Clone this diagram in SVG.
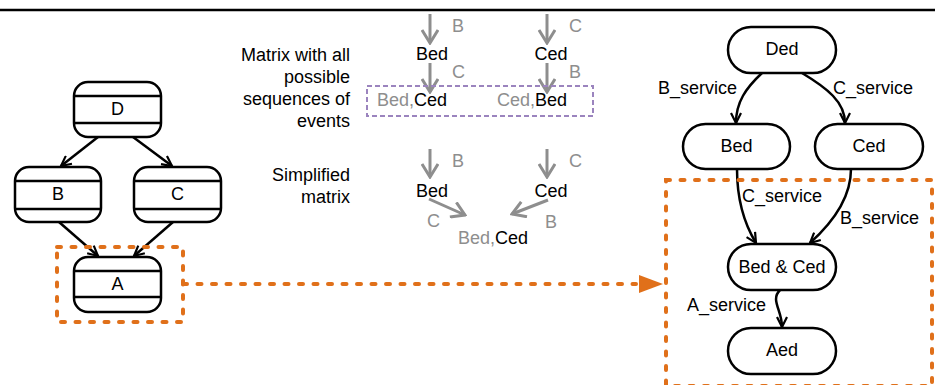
<svg xmlns="http://www.w3.org/2000/svg" width="935" height="385" viewBox="0 0 935 385">
<style>
text{font-family:"Liberation Sans",Arial,sans-serif;font-size:18px;fill:#000}
.g{fill:#8e8e8e}
.c{text-anchor:middle}
.e{text-anchor:end}
.box{fill:#fff;stroke:#000;stroke-width:2.5}
.ln{stroke:#000;stroke-width:2.5}
.con{fill:none;stroke:#000;stroke-width:2.5}
.gar{fill:none;stroke:#8e8e8e;stroke-width:3}
.or{fill:none;stroke:#e0701a;stroke-width:4;stroke-dasharray:4 10.5;stroke-linecap:round}
</style>
<defs>
<marker id="ah" viewBox="0 0 12 12" refX="11" refY="6" markerWidth="12" markerHeight="12" markerUnits="userSpaceOnUse" orient="auto">
<path d="M1,1 L11,6 L1,11" fill="none" stroke="#000" stroke-width="2.2"/>
</marker>
<marker id="gh" viewBox="0 0 16 18" refX="14" refY="9" markerWidth="16" markerHeight="18" markerUnits="userSpaceOnUse" orient="auto">
<path d="M1,1 L14,9 L1,17" fill="none" stroke="#8e8e8e" stroke-width="3"/>
</marker>
</defs>
<line x1="0" y1="10" x2="935" y2="10" stroke="#000" stroke-width="2.5"/>

<g id="connectors">
<path class="con" d="M98,137 L61,166" marker-end="url(#ah)"/>
<path class="con" d="M133,137 L172,166" marker-end="url(#ah)"/>
<path class="con" d="M59,222 L98,256" marker-end="url(#ah)"/>
<path class="con" d="M173,222 L134,256" marker-end="url(#ah)"/>
<path class="con" d="M762,73 C746,88 736,102 736,123" marker-end="url(#ah)"/>
<path class="con" d="M802,73 C827,88 845,102 845,123" marker-end="url(#ah)"/>
<path class="con" d="M737,169 C737,200 745,225 756,243" marker-end="url(#ah)"/>
<path class="con" d="M851,169 C851,200 830,225 810,243" marker-end="url(#ah)"/>
<path class="con" d="M780,290 C770,300 782,310 782,327" marker-end="url(#ah)"/>
<path class="gar" d="M430,14 L430,43" marker-end="url(#gh)"/>
<path class="gar" d="M430,63 L430,92" marker-end="url(#gh)"/>
<path class="gar" d="M547,14 L547,43" marker-end="url(#gh)"/>
<path class="gar" d="M547,63 L547,92" marker-end="url(#gh)"/>
<path class="gar" d="M430,149 L430,177" marker-end="url(#gh)"/>
<path class="gar" d="M547,149 L547,177" marker-end="url(#gh)"/>
<path class="gar" d="M429,199 L465,215" marker-end="url(#gh)"/>
<path class="gar" d="M548,200 L512,214" marker-end="url(#gh)"/>
<path class="or" d="M183,284 L636,284"/>
<polygon points="639,275 663,284 639,293" fill="#e0701a"/>
</g>

<g id="highlight-left"><rect class="or" x="57" y="247" width="126" height="75"/></g>
<g id="highlight-right"><rect class="or" x="666" y="180" width="266" height="206"/></g>
<g id="matrix-box"><rect x="367" y="86" width="226" height="30" fill="none" stroke="#9b84be" stroke-width="2" stroke-dasharray="5 3"/></g>

<g id="D"><rect class="box" x="74" y="82" width="87" height="55" rx="14"/><line class="ln" x1="74" y1="96" x2="161" y2="96"/><line class="ln" x1="74" y1="123" x2="161" y2="123"/><text class="c" x="117.5" y="115">D</text></g>
<g id="B"><rect class="box" x="15" y="167" width="86" height="55" rx="14"/><line class="ln" x1="15" y1="181" x2="101" y2="181"/><line class="ln" x1="15" y1="209" x2="101" y2="209"/><text class="c" x="58" y="200">B</text></g>
<g id="C"><rect class="box" x="134" y="167" width="87" height="55" rx="14"/><line class="ln" x1="134" y1="181" x2="221" y2="181"/><line class="ln" x1="134" y1="209" x2="221" y2="209"/><text class="c" x="177.5" y="200">C</text></g>
<g id="A"><rect class="box" x="74" y="257" width="87" height="55" rx="14"/><line class="ln" x1="74" y1="271" x2="161" y2="271"/><line class="ln" x1="74" y1="297" x2="161" y2="297"/><text class="c" x="117.5" y="290">A</text></g>

<g id="matrix-labels">
<text class="e" x="350" y="61">Matrix with all</text>
<text class="e" x="350" y="83">possible</text>
<text class="e" x="350" y="105">sequences of</text>
<text class="e" x="350" y="127">events</text>
<text class="e" x="350" y="181">Simplified</text>
<text class="e" x="350" y="203">matrix</text>
</g>
<g id="matrix">
<text class="g" x="452" y="32">B</text>
<text class="g" x="569" y="32">C</text>
<text class="c" x="432" y="60">Bed</text>
<text class="c" x="551" y="60">Ced</text>
<text class="g" x="452" y="78">C</text>
<text class="g" x="569" y="78">B</text>
<text x="377" y="106"><tspan class="g">Bed,</tspan>Ced</text>
<text x="497" y="106"><tspan class="g">Ced,</tspan>Bed</text>
<text class="g" x="452" y="167">B</text>
<text class="g" x="569" y="167">C</text>
<text class="c" x="432" y="197">Bed</text>
<text class="c" x="551" y="197">Ced</text>
<text class="g" x="427" y="227">C</text>
<text class="g" x="545" y="228">B</text>
<text x="458" y="244"><tspan class="g">Bed,</tspan>Ced</text>
</g>

<g id="Ded"><rect class="box" x="728" y="27" width="108" height="46" rx="23"/><text class="c" x="782" y="55">Ded</text></g>
<g id="Bed"><rect class="box" x="683" y="124" width="107" height="45" rx="22.5"/><text class="c" x="736.5" y="152">Bed</text></g>
<g id="Ced"><rect class="box" x="815" y="124" width="108" height="45" rx="22.5"/><text class="c" x="869" y="152">Ced</text></g>
<g id="BedCed"><rect class="box" x="728" y="244" width="108" height="46" rx="23"/><text class="c" x="782" y="273">Bed &amp; Ced</text></g>
<g id="Aed"><rect class="box" x="728" y="328" width="108" height="46" rx="23"/><text class="c" x="782" y="356">Aed</text></g>

<g id="edge-labels">
<text x="658" y="94">B_service</text>
<text x="833" y="94">C_service</text>
<text x="742" y="202">C_service</text>
<text x="840" y="224">B_service</text>
<text x="687" y="311">A_service</text>
</g>
</svg>
